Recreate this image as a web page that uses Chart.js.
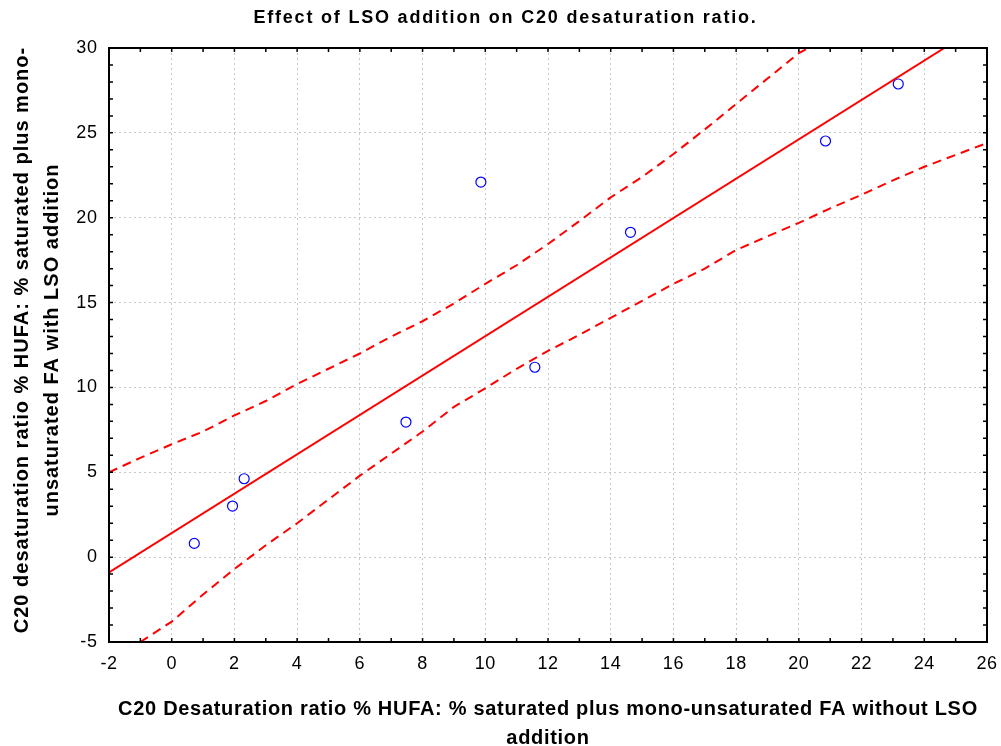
<!DOCTYPE html>
<html>
<head>
<meta charset="utf-8">
<title>Effect of LSO addition on C20 desaturation ratio</title>
<script src="https://cdn.jsdelivr.net/npm/chart.js@4.4.1/dist/chart.umd.min.js"></script>
<style>
  html, body { margin: 0; padding: 0; background: #fff; }
  #wrap { width: 1001px; height: 746px; position: relative; }
</style>
</head>
<body>
<div id="wrap"><canvas id="chart"></canvas></div>
<script>
// observed points (without LSO, with LSO)
const xValues = [0.72, 1.94, 2.31, 7.47, 9.86, 11.58, 14.63, 20.85, 23.17];
const yValues = [0.81, 3.01, 4.62, 7.96, 22.1, 11.19, 19.14, 24.52, 27.88];

// fitted line
const fitX = [-2, 24.64];
const fitY = [-0.9, 30];

// dashed confidence bands
const upperX = [-2, -1, 0, 1, 2, 3, 4, 5, 6, 7, 8, 9, 10, 11, 12, 13, 14, 15, 16, 17, 18, 19, 20, 20.3];
const upperY = [5.0, 5.85, 6.65, 7.4, 8.35, 9.2, 10.2, 11.1, 12.0, 13.0, 13.9, 14.95, 16.1, 17.2, 18.45, 19.8, 21.2, 22.4, 23.75, 25.2, 26.7, 28.2, 29.7, 30];
const lowerX = [-1.0, 0, 1, 2, 3, 4, 5, 6, 7, 8, 9, 10, 11, 12, 13, 14, 15, 16, 17, 18, 19, 20, 21, 22, 23, 24, 25, 26];
const lowerY = [-5, -3.8, -2.2, -0.7, 0.7, 2.0, 3.4, 4.8, 6.1, 7.4, 8.85, 9.95, 11.1, 12.15, 13.1, 14.1, 15.1, 16.1, 17.0, 18.1, 18.9, 19.7, 20.55, 21.35, 22.2, 23.0, 23.7, 24.4];

// axis ticks
const xTicks = [-2, 0, 2, 4, 6, 8, 10, 12, 14, 16, 18, 20, 22, 24, 26];
const yTicks = [-5, 0, 5, 10, 15, 20, 25, 30];

const RED = '#ff0000';
const BLUE = '#0000ff';
const FONT = 'Liberation Sans, Arial, sans-serif';

const toPoints = (xs, ys) => xs.map((x, i) => ({ x: x, y: ys[i] }));

// statistica-style wide text: add letter spacing (and a small nudge) around some draw calls
function spaceText(obj, method, spacing, dx, dy) {
  if (!obj || obj['_spaced_' + method]) return;
  const orig = obj[method];
  obj[method] = function () {
    const ctx = this.ctx;
    ctx.save();
    ctx.letterSpacing = spacing;
    ctx.translate(dx || 0, dy || 0);
    orig.apply(this, arguments);
    ctx.restore();
  };
  obj['_spaced_' + method] = true;
}

const spacing = {
  id: 'spacing',
  beforeDraw(chart) {
    spaceText(chart.titleBlock, 'draw', '1.8px', 12, 0);
    spaceText(chart.scales.x, 'drawTitle', '0.7px');
    spaceText(chart.scales.y, 'drawTitle', '1px', 0, -5);
    spaceText(chart.scales.x, 'drawLabels', '0.6px');
    spaceText(chart.scales.y, 'drawLabels', '0.6px');
  }
};

// black frame with small inward ticks every unit
const frame = {
  id: 'frame',
  afterDatasetsDraw(chart) {
    const { ctx, chartArea: a, scales: { x, y } } = chart;
    ctx.save();
    ctx.strokeStyle = '#000';
    ctx.lineWidth = 1.5;
    ctx.beginPath();
    for (let v = x.min; v <= x.max; v++) {
      const px = x.getPixelForValue(v);
      ctx.moveTo(px, a.top); ctx.lineTo(px, a.top + 4);
      ctx.moveTo(px, a.bottom); ctx.lineTo(px, a.bottom - 4);
    }
    for (let v = y.min; v <= y.max; v++) {
      const py = y.getPixelForValue(v);
      ctx.moveTo(a.left, py); ctx.lineTo(a.left + 4, py);
      ctx.moveTo(a.right, py); ctx.lineTo(a.right - 4, py);
    }
    ctx.stroke();
    ctx.lineWidth = 2;
    ctx.strokeRect(a.left, a.top, a.right - a.left, a.bottom - a.top);
    ctx.restore();
  }
};

const bandStyle = {
  showLine: true,
  borderColor: RED,
  borderWidth: 2,
  borderDash: [9, 6],
  pointRadius: 0,
  tension: 0,
  clip: 0
};

new Chart(document.getElementById('chart'), {
  type: 'scatter',
  data: {
    datasets: [
      Object.assign({ label: 'Upper', data: toPoints(upperX, upperY) }, bandStyle),
      Object.assign({ label: 'Lower', data: toPoints(lowerX, lowerY) }, bandStyle),
      {
        label: 'Fit',
        data: toPoints(fitX, fitY),
        showLine: true,
        borderColor: RED,
        borderWidth: 2,
        pointRadius: 0,
        clip: 0
      },
      {
        label: 'C20 ratio',
        data: toPoints(xValues, yValues),
        pointStyle: 'circle',
        pointRadius: 5,
        pointBorderWidth: 1.2,
        borderColor: BLUE,
        backgroundColor: 'rgba(0,0,0,0)',
        clip: false
      }
    ]
  },
  options: {
    responsive: true,
    maintainAspectRatio: false,
    animation: false,
    events: [],
    layout: { padding: { left: 0, right: 14, top: 0, bottom: 0 } },
    plugins: {
      legend: { display: false },
      tooltip: { enabled: false },
      title: {
        display: true,
        text: 'Effect of LSO addition on C20 desaturation ratio.',
        color: '#000',
        font: { family: FONT, size: 18, weight: 'bold', lineHeight: 1.2 },
        padding: { top: 7, bottom: 19.4 }
      }
    },
    scales: {
      x: {
        type: 'linear',
        min: -2,
        max: 26,
        afterBuildTicks: s => { s.ticks = xTicks.map(v => ({ value: v })); },
        afterFit: s => { s.height = 104; s.paddingLeft = 0; s.paddingRight = 0; },
        grid: { color: '#c8c8c8', lineWidth: 1, drawTicks: false },
        border: { display: false, dash: [2, 3] },
        ticks: {
          color: '#000',
          padding: 11,
          maxRotation: 0,
          autoSkip: false,
          font: { family: FONT, size: 18 }
        },
        title: {
          display: true,
          text: ['C20 Desaturation ratio % HUFA: % saturated plus mono-unsaturated FA without LSO', 'addition'],
          color: '#000',
          font: { family: FONT, size: 20, weight: 'bold', lineHeight: 29 / 20 },
          padding: { top: 0, bottom: -7 }
        }
      },
      y: {
        type: 'linear',
        min: -5,
        max: 30,
        afterBuildTicks: s => { s.ticks = yTicks.map(v => ({ value: v })); },
        afterFit: s => { s.width = 109; },
        grid: { color: '#c8c8c8', lineWidth: 1, drawTicks: false },
        border: { display: false, dash: [2, 3] },
        ticks: {
          color: '#000',
          padding: 11.5,
          autoSkip: false,
          font: { family: FONT, size: 18 }
        },
        title: {
          display: true,
          text: ['C20 desaturation ratio % HUFA: % saturated plus mono-', 'unsaturated FA with LSO addition'],
          color: '#000',
          font: { family: FONT, size: 20, weight: 'bold', lineHeight: 30 / 20 },
          padding: { top: 7, bottom: 0 }
        }
      }
    }
  },
  plugins: [spacing, frame]
});
</script>
</body>
</html>
